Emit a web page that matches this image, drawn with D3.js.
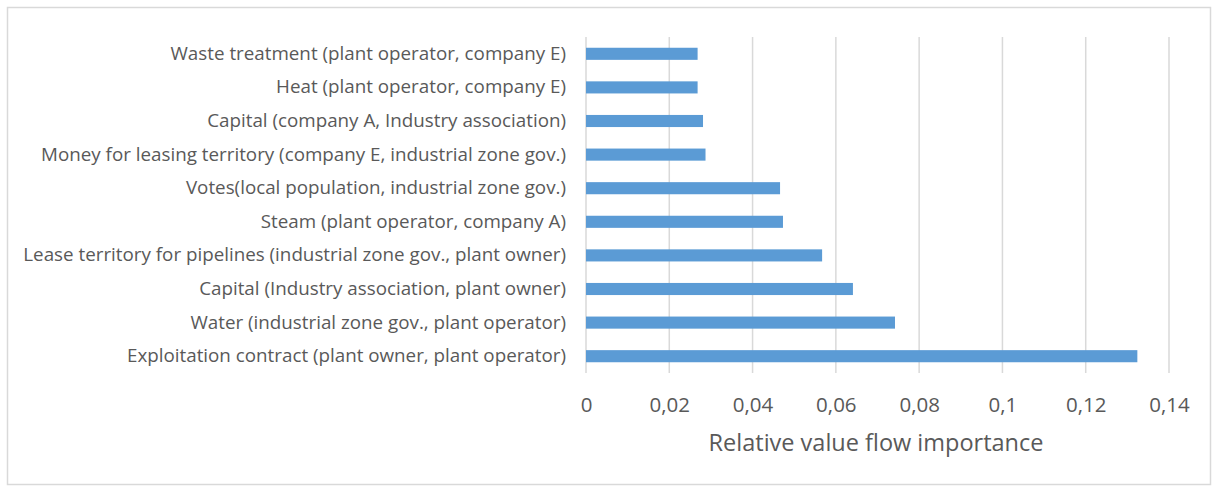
<!DOCTYPE html>
<html><head><meta charset="utf-8">
<script src="https://cdn.jsdelivr.net/npm/d3@7"></script>
<style>body{margin:0;background:#fff}svg text{font-family:"Open Sans",sans-serif;fill:#595959}</style>
</head><body><svg id="c" width="1213" height="488"></svg>
<script>
const categories = [
  "Waste treatment (plant operator, company E)",
  "Heat (plant operator, company E)",
  "Capital (company A, Industry association)",
  "Money for leasing territory (company E, industrial zone gov.)",
  "Votes(local population, industrial zone gov.)",
  "Steam (plant operator, company A)",
  "Lease territory for pipelines (industrial zone gov., plant owner)",
  "Capital (Industry association, plant owner)",
  "Water (industrial zone gov., plant operator)",
  "Exploitation contract (plant owner, plant operator)"
];
const values = [0.0268, 0.0268, 0.0281, 0.0287, 0.0466, 0.0473, 0.0567, 0.0641, 0.0742, 0.1324];
const tickValues = [0, 0.02, 0.04, 0.06, 0.08, 0.1, 0.12, 0.14];
const tickLabels = ["0", "0,02", "0,04", "0,06", "0,08", "0,1", "0,12", "0,14"];
const axisTitle = "Relative value flow importance";

const svg = d3.select("#c");
svg.append("rect").attr("x",7.5).attr("y",7.5).attr("width",1203).attr("height",477)
  .attr("fill","none").attr("stroke","#d9d9d9").attr("stroke-width",1.5);

const x = d3.scaleLinear().domain([0,0.14]).range([586,1169]);
const y = d3.scaleBand().domain(categories).range([37,373]).paddingInner(0.64).paddingOuter(0.32);

const grid = svg.append("g");
grid.selectAll("line").data(tickValues).join("line")
  .attr("x1",d=>x(d)).attr("x2",d=>x(d)).attr("y1",37).attr("y2",373)
  .attr("stroke","#d9d9d9").attr("stroke-width",1.5);

svg.append("g").selectAll("rect").data(values).join("rect")
  .attr("x",x(0)).attr("y",(d,i)=>y(categories[i]))
  .attr("width",d=>x(d)-x(0)).attr("height",y.bandwidth())
  .attr("fill","#5b9bd5");

const xAxis = d3.axisBottom(x).tickValues(tickValues).tickFormat((d,i)=>tickLabels[i]).tickSize(0).tickPadding(0);
const gx = svg.append("g").attr("transform","translate(0,397)").call(xAxis);
gx.select(".domain").remove();
gx.selectAll("text").attr("font-size","20.5px").attr("dy","0.71em").style("font-family","'Open Sans',sans-serif").attr("fill","#595959");

const yAxis = d3.axisLeft(y).tickSize(0).tickPadding(0);
const gy = svg.append("g").attr("transform","translate(566,0)").call(yAxis);
gy.select(".domain").remove();
gy.selectAll("text").attr("font-size","18.8px").style("font-family","'Open Sans',sans-serif").attr("fill","#595959");

svg.append("text").attr("x",876).attr("y",451).attr("text-anchor","middle")
  .attr("font-size","23.5px").text(axisTitle);
</script></body></html>
